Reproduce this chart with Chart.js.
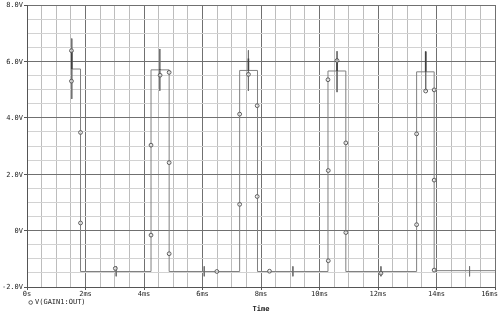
<!DOCTYPE html>
<html><head><meta charset="utf-8">
<script src="https://cdn.jsdelivr.net/npm/chart.js@4/dist/chart.umd.min.js"></script>
<style>html,body{margin:0;padding:0;background:#fff;}#wrap{width:500px;height:313px;position:relative}</style>
</head><body><div id="wrap"><canvas id="c"></canvas></div>
<script>
// Step trace corners (time in ms, level in V)
const stepTimes  = [1.53, 1.83, 4.24, 4.86, 7.27, 7.88, 10.29, 10.90, 13.32, 13.92, 16.0];
const stepLevels = [5.73, -1.45, 5.70, -1.45, 5.68, -1.45, 5.66, -1.45, 5.63, -1.42, -1.42];
// Marker points of V(GAIN1:OUT)
const markerTimes  = [1.52, 1.52, 1.83, 1.83, 3.02, 4.24, 4.24, 4.55, 4.86, 4.86, 4.86, 6.49, 7.27, 7.27, 7.57, 7.87, 7.87, 8.29, 10.30, 10.30, 10.29, 10.60, 10.90, 10.90, 12.10, 13.32, 13.32, 13.63, 13.92, 13.92, 13.92];
const markerValues = [6.38, 5.30, 3.48, 0.27, -1.34, -0.16, 3.03, 5.51, 5.61, 2.41, -0.82, -1.45, 0.93, 4.13, 5.54, 4.43, 1.21, -1.44, 2.13, -1.07, 5.35, 6.03, 3.11, -0.07, -1.51, 0.21, 3.43, 4.95, 4.99, 1.79, -1.40];
// Vertical range ticks at the pulse tops
const topTickTimes = [1.53, 4.54, 7.57, 10.60, 13.63];
const topTickHigh  = [6.81, 6.44, 6.39, 6.36, 6.35];
const topTickLow   = [4.67, 4.96, 4.95, 4.91, 4.95];
// Darker part of the top ticks
const topDarkHigh  = [6.38, 5.73, 6.10, 6.10, 6.35];
const topDarkLow   = [5.73, 5.70, 5.68, 5.66, 5.63];
// Ticks on the low level
const lowTickTimes = [3.05, 6.06, 9.09, 12.10, 15.13];
const lowTickHigh  = [-1.27, -1.27, -1.27, -1.27, -1.27];
const lowTickLow   = [-1.62, -1.62, -1.62, -1.62, -1.62];
// Axis tick labels
const xTickValues = [0, 2, 4, 6, 8, 10, 12, 14, 16];
const xTickLabels = ['0s', '2ms', '4ms', '6ms', '8ms', '10ms', '12ms', '14ms', '16ms'];
const yTickValues = [-2, 0, 2, 4, 6, 8];
const yTickLabels = ['-2.0V', '0V', '2.0V', '4.0V', '6.0V', '8.0V'];
const seriesName = 'V(GAIN1:OUT)';
const xTitle = 'Time';

function segs(ts, hi, lo) {
  const out = [];
  ts.forEach((t, i) => { out.push({x: t, y: hi[i]}, {x: t, y: lo[i]}, {x: t, y: null}); });
  return out;
}

const FONT = "7px 'DejaVu Sans Mono'";
const MARK = '#5a5a5a';

const labelPlugin = {
  id: 'labels',
  afterDraw(chart) {
    const ctx = chart.ctx, xs = chart.scales.x, ys = chart.scales.y, ca = chart.chartArea;
    ctx.save();
    ctx.fillStyle = '#222';
    ctx.font = FONT;
    ctx.textBaseline = 'middle';
    ctx.textAlign = 'right';
    yTickValues.forEach((v, i) => ctx.fillText(yTickLabels[i], ca.left - 4, ys.getPixelForValue(v) + 0.5));
    xTickValues.forEach((v, i) => {
      const px = xs.getPixelForValue(v);
      const w = ctx.measureText(xTickLabels[i]).width;
      if (px + w / 2 > 498) { ctx.textAlign = 'right'; ctx.fillText(xTickLabels[i], 498, ca.bottom + 7); }
      else { ctx.textAlign = 'center'; ctx.fillText(xTickLabels[i], px, ca.bottom + 7); }
    });
    // legend
    ctx.textAlign = 'left';
    ctx.fillText(seriesName, 35, ca.bottom + 15.5);
    ctx.strokeStyle = MARK; ctx.lineWidth = 1;
    ctx.beginPath(); ctx.arc(30.7, ca.bottom + 15.5, 1.8, 0, Math.PI * 2); ctx.stroke();
    // axis title
    ctx.font = "bold 7px 'DejaVu Sans Mono'";
    ctx.textAlign = 'center';
    ctx.fillText(xTitle, (ca.left + ca.right) / 2, ca.bottom + 22.5);
    ctx.restore();
  }
};

const gridColor = (major, minor) => (c) => (c.tick && Math.abs(c.tick.value % 2) < 1e-9) ? major : minor;

new Chart(document.getElementById('c'), {
  type: 'line',
  data: {
    datasets: [
      { data: stepTimes.map((t, i) => ({x: t, y: stepLevels[i]})), stepped: 'before',
        borderColor: '#808080', borderWidth: 1, pointRadius: 0, fill: false, order: 3 },
      { data: segs(topTickTimes, topTickHigh, topTickLow).concat(segs(lowTickTimes, lowTickHigh, lowTickLow)),
        borderColor: '#707070', borderWidth: 1, pointRadius: 0, spanGaps: false, fill: false, order: 2 },
      { data: segs(topTickTimes, topDarkHigh, topDarkLow),
        borderColor: '#404040', borderWidth: 1.6, pointRadius: 0, spanGaps: false, fill: false, order: 1 },
      { data: markerTimes.map((t, i) => ({x: t, y: markerValues[i]})), showLine: false,
        pointStyle: 'circle', pointRadius: 1.9, pointBorderWidth: 1, pointBorderColor: MARK,
        pointBackgroundColor: 'rgba(255,255,255,0.6)', order: 0 }
    ]
  },
  options: {
    responsive: true, maintainAspectRatio: false, animation: false,
    layout: { padding: { top: 5, right: 2, left: 0, bottom: 0 } },
    plugins: { legend: { display: false }, tooltip: { enabled: false } },
    scales: {
      x: { type: 'linear', min: 0, max: 16,
        ticks: { display: false, stepSize: 0.5, autoSkip: false },
        grid: { color: gridColor('#707070', '#bdbdbd'), lineWidth: 1, drawTicks: true, tickLength: 3,
                tickColor: gridColor('#555', 'rgba(0,0,0,0)') },
        border: { display: true, color: '#555' },
        afterFit: s => { s.height = 26; } },
      y: { type: 'linear', min: -2, max: 8,
        ticks: { display: false, stepSize: 0.5, autoSkip: false },
        grid: { color: gridColor('#707070', '#d2d2d2'), lineWidth: 1, drawTicks: true, tickLength: 3,
                tickColor: gridColor('#555', 'rgba(0,0,0,0)') },
        border: { display: true, color: '#555' },
        afterFit: s => { s.width = 27; } }
    }
  },
  plugins: [labelPlugin]
});
</script></body></html>
